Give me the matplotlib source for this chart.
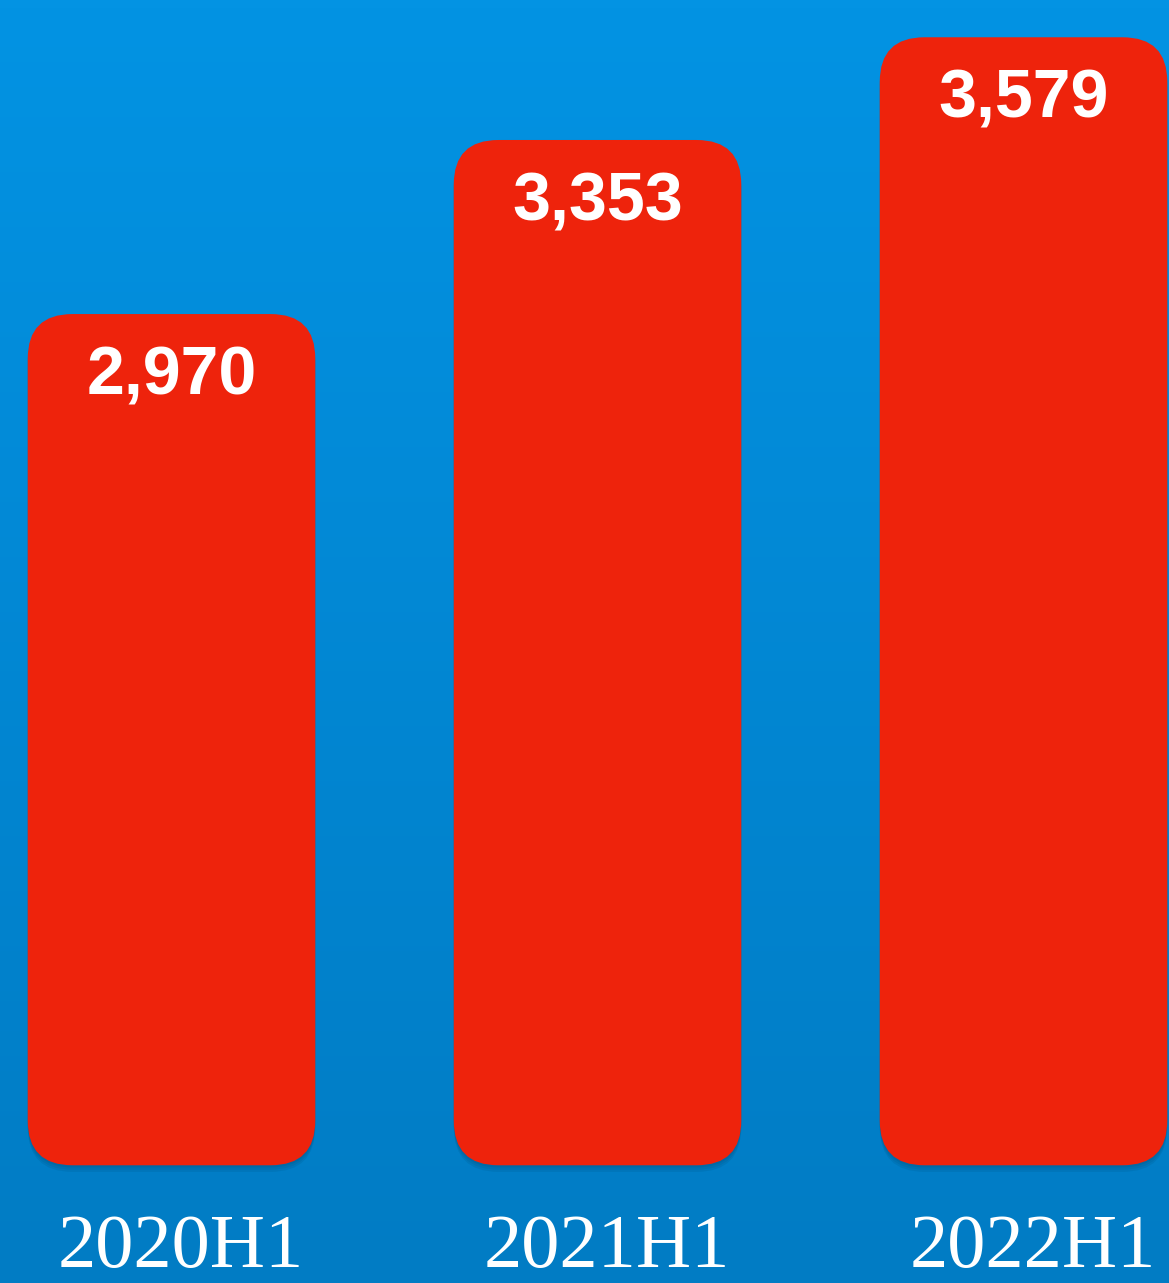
import numpy as np
import matplotlib
matplotlib.use("Agg")
import matplotlib.pyplot as plt
from matplotlib.patches import FancyBboxPatch
from matplotlib.colors import LinearSegmentedColormap

# dados
categorias = ["2020H1", "2021H1", "2022H1"]
valores = [2970, 3353, 3579]
rotulos = ["2,970", "3,353", "3,579"]

base = 1097
largura = 0.675

fig = plt.figure(figsize=(11.69, 12.83), dpi=100)
ax = fig.add_axes([0, 0, 1, 1])
ax.set_xlim(-0.4026, 2.3415)
ax.set_ylim(838, 3661)
ax.axis("off")

# fundo em degradê azul (claro em cima, escuro embaixo)
grad = np.linspace(0, 1, 256).reshape(-1, 1)
cmap_fundo = LinearSegmentedColormap.from_list("fundo", ["#017cc4", "#0393e3"])
ax.imshow(grad, cmap=cmap_fundo, aspect="auto", origin="lower",
          extent=[-0.4026, 2.3415, 838, 3661], zorder=0, interpolation="bicubic")

# aspecto para cantos arredondados (unidades y por unidade x, em pixels)
fig.canvas.draw()
p0 = ax.transData.transform((0, 0))
p1 = ax.transData.transform((1, 1))
aspecto = (p1[0] - p0[0]) / (p1[1] - p0[1])
raio = 0.105

barras = ax.bar(range(len(valores)), np.array(valores) - base, bottom=base,
                width=largura, color="none")

for i, b in enumerate(barras):
    x, y = b.get_x(), b.get_y()
    w, h = b.get_width(), b.get_height()
    # sombra
    for k, a in enumerate([0.05, 0.05, 0.06]):
        sombra = FancyBboxPatch((x, y - (k + 1) * 2.2 * aspecto * 0.00235), w, h,
                                boxstyle=f"round,pad=0,rounding_size={raio}",
                                mutation_aspect=aspecto, facecolor="black",
                                edgecolor="none", alpha=a, zorder=2)
        ax.add_patch(sombra)
    caixa = FancyBboxPatch((x, y), w, h,
                           boxstyle=f"round,pad=0,rounding_size={raio}",
                           mutation_aspect=aspecto, facecolor="#ee230c",
                           edgecolor="none", zorder=3)
    ax.add_patch(caixa)
    b.remove()

    ax.annotate(rotulos[i], (i, valores[i]), xytext=(0, -45), textcoords="offset points",
                ha="center", va="center", color="white", fontsize=49,
                fontweight="bold", family="Liberation Sans", zorder=4)
    ax.annotate(categorias[i], (i, base), xytext=(7, -60), textcoords="offset points",
                ha="center", va="center", color="white", fontsize=55,
                family="Liberation Serif", zorder=4, annotation_clip=False)

fig.savefig("out.png", dpi=100)
